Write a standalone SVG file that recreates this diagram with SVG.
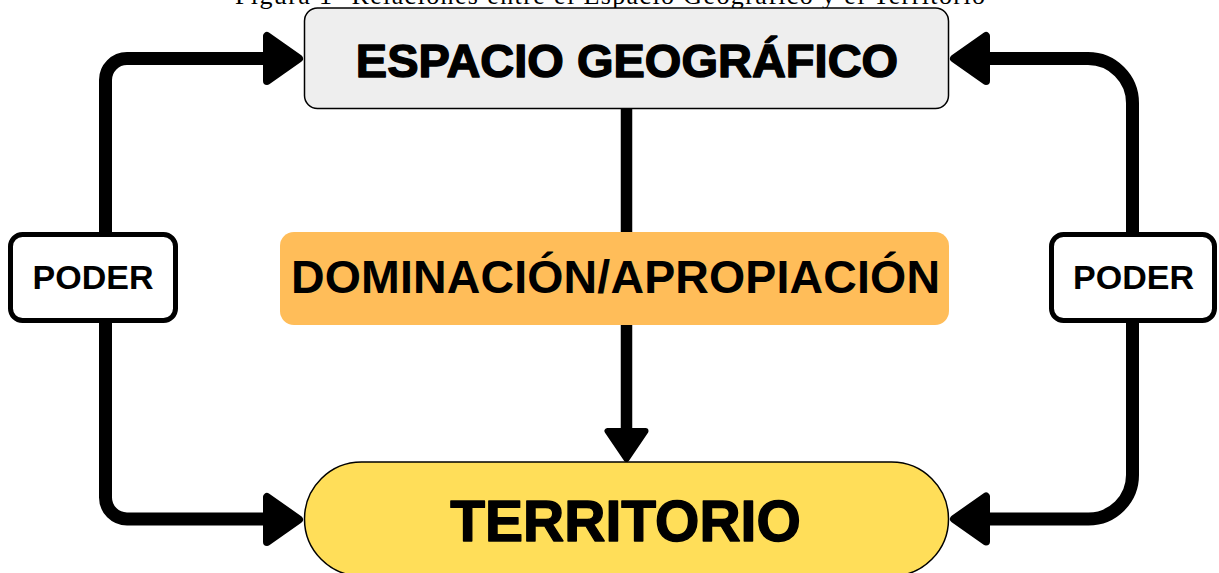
<svg xmlns="http://www.w3.org/2000/svg" width="1219" height="573" viewBox="0 0 1219 573">
<style>
.line{fill:none;stroke:#000;stroke-width:13;stroke-linecap:butt;stroke-linejoin:round}
.ah{fill:#000;stroke:#000;stroke-width:8;stroke-linejoin:round}
.lbl{font-family:"Liberation Sans",Arial,sans-serif;font-weight:bold;text-anchor:middle;fill:#000}
.heavy{stroke:#000;stroke-width:1.4;stroke-linejoin:round}
.poder{fill:#fff;stroke:#000;stroke-width:5}
</style>
<rect width="1219" height="573" fill="#fff"/>
<text x="610" y="3.5" font-family="'Liberation Serif','Times New Roman',serif" font-size="26" text-anchor="middle" textLength="750" fill="#000">Figura 1- Relaciones entre el Espacio Geográfico y el Territorio</text>
<g id="connectors">
  <path class="line" d="M105.5,232 V80 A21.5,21.5 0 0 1 127,58.5 H272"/>
  <polygon class="ah" points="299,58.5 267,36 267,81"/>
  <path class="line" d="M105.5,323 V497.5 A21.5,21.5 0 0 0 127,519 H272"/>
  <polygon class="ah" points="299,519.5 267,497 267,542"/>
  <path class="line" d="M1132.5,232 V103 A44.5,44.5 0 0 0 1088,58.5 H982"/>
  <polygon class="ah" points="954,58.5 986,36 986,81"/>
  <path class="line" d="M1132.5,323 V475 A44,44 0 0 1 1088.5,519 H982"/>
  <polygon class="ah" points="954,519 986,496.5 986,541.5"/>
  <path class="line" style="stroke-width:11.5" d="M626.5,108 V434"/>
  <polygon class="ah" style="stroke-width:6" points="626.5,459 607.5,431 645.5,431"/>
</g>
<g id="espacio">
  <rect x="304.5" y="8" width="644" height="100.5" rx="13" fill="#eeeeee" stroke="#000" stroke-width="1.5"/>
  <text class="lbl heavy" x="627" y="77" font-size="47">ESPACIO GEOGRÁFICO</text>
</g>
<g id="dominacion">
  <rect x="280" y="232" width="669" height="93" rx="14" fill="#ffbd59"/>
  <text class="lbl" x="615.5" y="293" font-size="46.5" textLength="649">DOMINACIÓN/APROPIACIÓN</text>
</g>
<g id="poder-izq">
  <rect class="poder" x="10.5" y="234.5" width="165" height="86" rx="12"/>
  <text class="lbl" x="93" y="289" font-size="34">PODER</text>
</g>
<g id="poder-der">
  <rect class="poder" x="1051.5" y="234.5" width="163" height="86" rx="12"/>
  <text class="lbl" x="1133.5" y="289" font-size="34">PODER</text>
</g>
<g id="territorio">
  <rect x="304.5" y="462" width="644" height="114" rx="57" fill="#ffde59" stroke="#000" stroke-width="1.5"/>
  <text class="lbl heavy" x="625.5" y="541" font-size="57">TERRITORIO</text>
</g>
</svg>
